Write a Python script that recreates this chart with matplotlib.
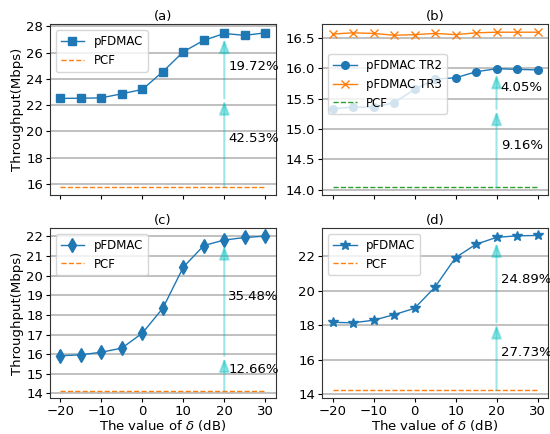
import numpy as np
import matplotlib
matplotlib.use('Agg')
import matplotlib.pyplot as plt

# --- data ---
delta = [-20, -15, -10, -5, 0, 5, 10, 15, 20, 25, 30]

a_pfdmac = [22.51, 22.52, 22.55, 22.86, 23.19, 24.54, 26.06, 26.93, 27.45, 27.31, 27.50]
a_pcf = 15.8

b_tr2 = [15.33, 15.36, 15.36, 15.43, 15.65, 15.82, 15.84, 15.94, 15.99, 15.98, 15.97]
b_tr3 = [16.56, 16.58, 16.57, 16.54, 16.55, 16.57, 16.55, 16.58, 16.59, 16.59, 16.59]
b_pcf = 14.04

c_pfdmac = [15.92, 15.97, 16.10, 16.31, 17.07, 18.34, 20.43, 21.53, 21.81, 21.94, 22.01]
c_pcf = 14.15

d_pfdmac = [18.16, 18.13, 18.28, 18.60, 18.97, 20.20, 21.91, 22.68, 23.08, 23.17, 23.19]
d_pcf = 14.23

# gain labels: (upper label, height, lower label, height)
gains = {
    'a': ('19.72%', 24.95, '42.53%', 19.45),
    'b': ('4.05%', 15.68, '9.16%', 14.73),
    'c': ('35.48%', 18.93, '12.66%', 15.22),
    'd': ('24.89%', 20.63, '27.73%', 16.39),
}

FS = 9.5
plt.rcParams['font.size'] = FS
plt.rcParams['axes.edgecolor'] = '#333333'
plt.rcParams['xtick.major.pad'] = 2
plt.rcParams['ytick.major.pad'] = 2
plt.rcParams['xtick.major.size'] = 3
plt.rcParams['ytick.major.size'] = 3
plt.rcParams['axes.labelpad'] = 1.5

fig, axes = plt.subplots(2, 2, figsize=(5.5, 4.34), dpi=100)
fig.subplots_adjust(left=0.091, right=0.996, top=0.944, bottom=0.082,
                    wspace=0.207, hspace=0.196)
ax_a, ax_b, ax_c, ax_d = axes.flat


def arrow(ax, y0, y1, gap):
    ax.annotate('', xy=(20, y1), xytext=(20, y0),
                arrowprops=dict(arrowstyle='-|>,head_length=0.85,head_width=0.33',
                                color='c', alpha=0.38, lw=1.5,
                                shrinkA=0, shrinkB=gap))


def gain_arrows(ax, pcf, series, key):
    low = series[0]
    high = series[delta.index(20)]
    arrow(ax, pcf, low, 1.6)
    arrow(ax, low, high, 4)
    t1, y1, t2, y2 = gains[key]
    ax.text(21, y1, t1, va='center', ha='left')
    ax.text(21, y2, t2, va='center', ha='left')


def style(ax, title):
    ax.set_title(title, fontsize=FS, pad=3)
    ax.grid(axis='y', color='#b5b5b5', linewidth=1.2)
    ax.set_axisbelow(True)
    ax.set_xticks([-20, -10, 0, 10, 20, 30])


LEG = dict(fontsize=8.5, framealpha=0.8)

# (a)
ax_a.plot(delta, a_pfdmac, marker='s', markersize=5.5, linewidth=1.0, color='tab:blue', label='pFDMAC')
ax_a.plot(delta, [a_pcf] * len(delta), '--', linewidth=1.0, color='tab:orange', label='PCF')
gain_arrows(ax_a, a_pcf, a_pfdmac, 'a')
ax_a.set_ylim(15.18, 28.15)
ax_a.set_yticks([16, 18, 20, 22, 24, 26, 28])
ax_a.set_ylabel('Throughput(Mbps)')
ax_a.legend(loc='upper left', **LEG)
style(ax_a, '(a)')

# (b)
ax_b.plot(delta, b_tr2, marker='o', markersize=5.5, linewidth=1.0, color='tab:blue', label='pFDMAC TR2')
ax_b.plot(delta, b_tr3, marker='x', markersize=6, linewidth=1.0, color='tab:orange', label='pFDMAC TR3')
ax_b.plot(delta, [b_pcf] * len(delta), '--', linewidth=1.0, color='tab:green', label='PCF')
gain_arrows(ax_b, b_pcf, b_tr2, 'b')
ax_b.set_ylim(13.92, 16.72)
ax_b.set_yticks([14.0, 14.5, 15.0, 15.5, 16.0, 16.5])
ax_b.legend(loc='upper left', bbox_to_anchor=(0.0, 0.86), **LEG)
style(ax_b, '(b)')

# (c)
ax_c.plot(delta, c_pfdmac, marker='d', markersize=7, linewidth=1.0, color='tab:blue', label='pFDMAC')
ax_c.plot(delta, [c_pcf] * len(delta), '--', linewidth=1.0, color='tab:orange', label='PCF')
gain_arrows(ax_c, c_pcf, c_pfdmac, 'c')
ax_c.set_ylim(13.75, 22.42)
ax_c.set_yticks(range(14, 23))
ax_c.set_ylabel('Throughput(Mbps)')
ax_c.set_xlabel(r'The value of $\delta$ (dB)', labelpad=0)
ax_c.legend(loc='upper left', **LEG)
style(ax_c, '(c)')

# (d)
ax_d.plot(delta, d_pfdmac, marker='*', markersize=7, linewidth=1.0, color='tab:blue', label='pFDMAC')
ax_d.plot(delta, [d_pcf] * len(delta), '--', linewidth=1.0, color='tab:orange', label='PCF')
gain_arrows(ax_d, d_pcf, d_pfdmac, 'd')
ax_d.set_ylim(13.75, 23.62)
ax_d.set_yticks([14, 16, 18, 20, 22])
ax_d.set_xlabel(r'The value of $\delta$ (dB)', labelpad=0)
ax_d.legend(loc='upper left', **LEG)
style(ax_d, '(d)')

ax_a.tick_params(labelbottom=False)
ax_b.tick_params(labelbottom=False)

fig.savefig('out.png', dpi=100)
